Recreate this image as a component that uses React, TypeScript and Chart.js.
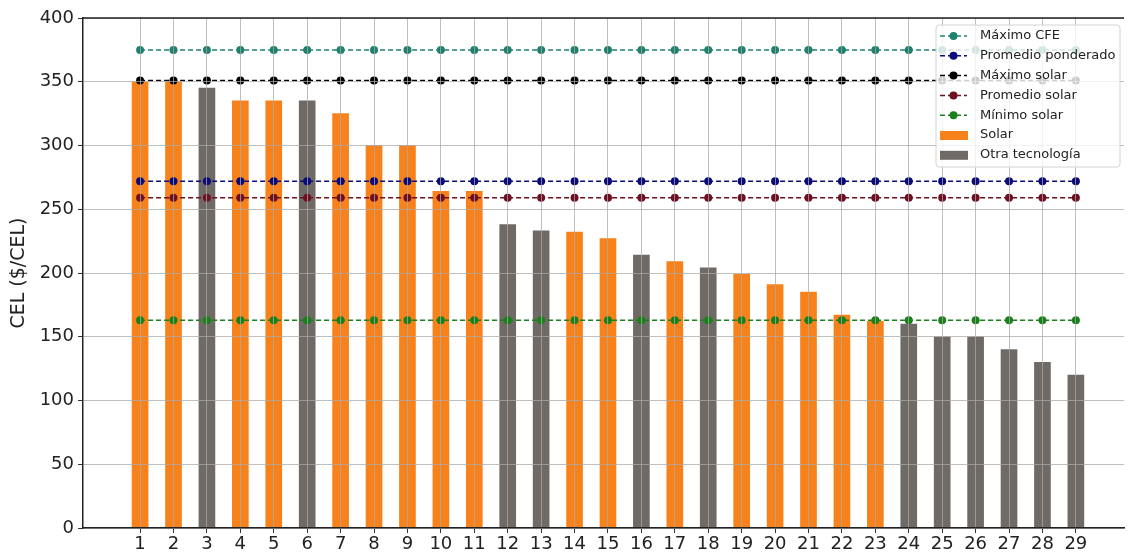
import React, { useEffect, useRef } from "react";
import { Chart, registerables } from "chart.js";

Chart.register(...registerables);

// ---- data ----
const categories = [1, 2, 3, 4, 5, 6, 7, 8, 9, 10, 11, 12, 13, 14, 15, 16, 17, 18, 19, 20, 21, 22, 23, 24, 25, 26, 27, 28, 29];
const celValues = [350, 350, 345, 335, 335, 335, 325, 300, 300, 264, 264, 238, 233, 232, 227, 214, 209, 204, 199, 191, 185, 167, 162, 160, 150, 150, 140, 130, 120];
const technology = ["S", "S", "O", "S", "S", "O", "S", "S", "S", "S", "S", "O", "O", "S", "S", "O", "S", "O", "S", "S", "S", "S", "S", "O", "O", "O", "O", "O", "O"];
const yTicks = [0, 50, 100, 150, 200, 250, 300, 350, 400];

const maximoCFE = 375;
const promedioPonderado = 272;
const maximoSolar = 351;
const promedioSolar = 259;
const minimoSolar = 163;

const levelLine = (label: string, value: number, color: string) => ({
  type: "line" as const,
  label,
  data: categories.map((c) => ({ x: c, y: value })),
  borderColor: color,
  backgroundColor: color,
  pointBackgroundColor: color,
  pointBorderColor: color,
  pointRadius: 4,
  pointBorderWidth: 0,
  borderWidth: 1.5,
  borderDash: [5, 3],
  fill: false,
  order: 1,
});

const legendPlugin = {
  id: "boxLegend",
  afterDraw(chart: any) {
    const ctx = chart.ctx as CanvasRenderingContext2D;
    const ds = chart.data.datasets;
    const area = chart.chartArea;
    const x0 = 936;
    const y0 = 25;
    const w = area.right - 4 - x0;
    const h = 142;
    ctx.save();
    ctx.beginPath();
    const r = 3;
    ctx.moveTo(x0 + r, y0);
    ctx.lineTo(x0 + w - r, y0);
    ctx.quadraticCurveTo(x0 + w, y0, x0 + w, y0 + r);
    ctx.lineTo(x0 + w, y0 + h - r);
    ctx.quadraticCurveTo(x0 + w, y0 + h, x0 + w - r, y0 + h);
    ctx.lineTo(x0 + r, y0 + h);
    ctx.quadraticCurveTo(x0, y0 + h, x0, y0 + h - r);
    ctx.lineTo(x0, y0 + r);
    ctx.quadraticCurveTo(x0, y0, x0 + r, y0);
    ctx.closePath();
    ctx.fillStyle = "rgba(255,255,255,0.8)";
    ctx.fill();
    ctx.strokeStyle = "#d4d4d4";
    ctx.lineWidth = 1;
    ctx.stroke();

    const order = [2, 3, 4, 5, 6, 0, 1];
    ctx.font = "13px 'DejaVu Sans'";
    ctx.textBaseline = "middle";
    ctx.textAlign = "left";
    order.forEach((idx, i) => {
      const d = ds[idx];
      const y = y0 + 11 + i * 19.8;
      if (d.type === "line") {
        ctx.strokeStyle = d.borderColor;
        ctx.lineWidth = 1.5;
        ctx.setLineDash([5, 3]);
        ctx.beginPath();
        ctx.moveTo(940, y);
        ctx.lineTo(967, y);
        ctx.stroke();
        ctx.setLineDash([]);
        ctx.fillStyle = d.borderColor;
        ctx.beginPath();
        ctx.arc(953.5, y, 4, 0, Math.PI * 2);
        ctx.fill();
      } else {
        ctx.fillStyle = d.backgroundColor;
        ctx.fillRect(940, y - 4, 28, 9);
      }
      ctx.fillStyle = "#222";
      ctx.fillText(d.label, 980, y);
    });
    ctx.restore();
  },
};

const topSpinePlugin = {
  id: "topSpine",
  afterDraw(chart: any) {
    const ctx = chart.ctx as CanvasRenderingContext2D;
    const a = chart.chartArea;
    ctx.save();
    ctx.strokeStyle = "#222";
    ctx.lineWidth = 1.5;
    ctx.beginPath();
    ctx.moveTo(a.left, a.top);
    ctx.lineTo(a.right, a.top);
    ctx.stroke();
    ctx.restore();
  },
};

export default function App() {
  const ref = useRef<HTMLCanvasElement | null>(null);

  useEffect(() => {
    if (!ref.current) return;
    const solarData = categories
      .map((c, i) => (technology[i] === "S" ? { x: c, y: celValues[i] } : null))
      .filter((p) => p !== null);
    const otraData = categories
      .map((c, i) => (technology[i] === "O" ? { x: c, y: celValues[i] } : null))
      .filter((p) => p !== null);

    const chart = new Chart(ref.current, {
      type: "bar",
      data: {
        datasets: [
          {
            type: "bar",
            label: "Solar",
            data: solarData as any,
            backgroundColor: "#f7821b",
            barThickness: 16,
            grouped: false,
            order: 2,
          } as any,
          {
            type: "bar",
            label: "Otra tecnología",
            data: otraData as any,
            backgroundColor: "#6f6a66",
            barThickness: 16,
            grouped: false,
            order: 2,
          } as any,
          levelLine("Máximo CFE", maximoCFE, "#1f8070"),
          levelLine("Promedio ponderado", promedioPonderado, "#0a0a78"),
          levelLine("Máximo solar", maximoSolar, "#000000"),
          levelLine("Promedio solar", promedioSolar, "#6e1020"),
          levelLine("Mínimo solar", minimoSolar, "#1a801a"),
        ],
      },
      options: {
        responsive: false,
        animation: false,
        devicePixelRatio: 1,
        layout: { padding: { left: 0, top: 18, right: 0, bottom: 0 } },
        plugins: {
          legend: { display: false },
          tooltip: { enabled: false },
        },
        scales: {
          x: {
            type: "linear",
            min: -0.708,
            max: 30.44,
            offset: false,
            afterBuildTicks: (scale: any) => {
              scale.ticks = categories.map((v) => ({ value: v }));
            },
            afterFit: (scale: any) => {
              scale.height = 30;
            },
            grid: {
              color: "rgba(170,170,170,0.75)",
              lineWidth: 1,
              tickColor: "#333",
              tickLength: 5,
              offset: false,
              z: 1,
            },
            border: { color: "#222", width: 1.5, z: 2 },
            ticks: {
              color: "#222",
              font: { family: "'DejaVu Sans'", size: 18 },
              padding: 1,
              maxRotation: 0,
              autoSkip: false,
              callback: (v: any) => String(v),
            },
          },
          y: {
            min: 0,
            max: 400,
            afterBuildTicks: (scale: any) => {
              scale.ticks = yTicks.map((v) => ({ value: v }));
            },
            afterFit: (scale: any) => {
              scale.width = 83;
            },
            grid: {
              color: "rgba(170,170,170,0.75)",
              lineWidth: 1,
              tickColor: "#333",
              tickLength: 5,
              z: 1,
            },
            border: { color: "#222", width: 1.5, z: 2 },
            ticks: {
              color: "#222",
              font: { family: "'DejaVu Sans'", size: 18 },
              padding: 4,
            },
            title: {
              display: true,
              text: "CEL ($/CEL)",
              color: "#222",
              font: { family: "'DejaVu Sans'", size: 19 },
              padding: { top: 8, bottom: 0 },
            },
          },
        },
      },
      plugins: [topSpinePlugin, legendPlugin],
    });
    return () => chart.destroy();
  }, []);

  return (
    <div style={{ position: "fixed", left: 0, top: 0, width: 1128, height: 558, background: "#fff" }}>
      <canvas ref={ref} width={1128} height={558} style={{ width: 1128, height: 558 }} />
    </div>
  );
}
